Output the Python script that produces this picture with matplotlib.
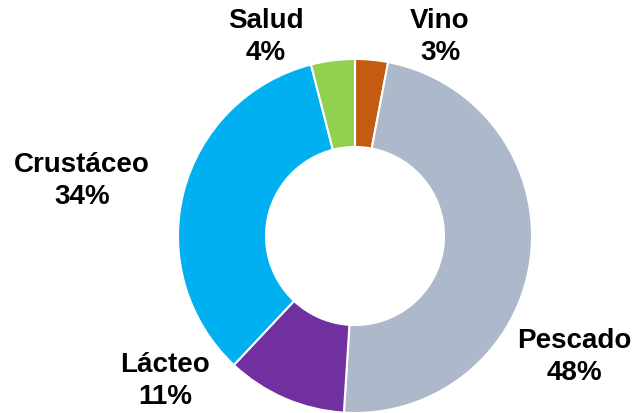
import matplotlib
matplotlib.use("Agg")
import matplotlib.pyplot as plt

categories = ["Vino", "Pescado", "Lácteo", "Crustáceo", "Salud"]
shares = [3, 48, 11, 34, 4]
colors = ["#C55A11", "#ADB9CA", "#7030A0", "#00B0F0", "#92D050"]

# label anchor points in pixel space (x from left, y from top)
label_pos = [(440, 37), (574, 357), (165, 381), (82, 181), (266, 37)]

W, H = 634, 414
fig = plt.figure(figsize=(W / 100, H / 100), dpi=100)
ax = fig.add_axes([0, 0, 1, 1])

ax.pie(shares, colors=colors, startangle=90, counterclock=False,
       center=(355, H - 237), radius=177,
       wedgeprops=dict(width=88, edgecolor="white", linewidth=1.5))

# pie() resets the limits, so set the pixel frame afterwards
ax.set_xlim(0, W)
ax.set_ylim(0, H)
ax.set_aspect("equal")
ax.axis("off")

for name, val, (px, py) in zip(categories, shares, label_pos):
    ax.text(px, H - py, f"{name}\n{val}%", ha="center", va="center",
            fontsize=20, fontweight="bold", family="Liberation Sans",
            linespacing=1.32)

fig.savefig("out.png", dpi=100)
